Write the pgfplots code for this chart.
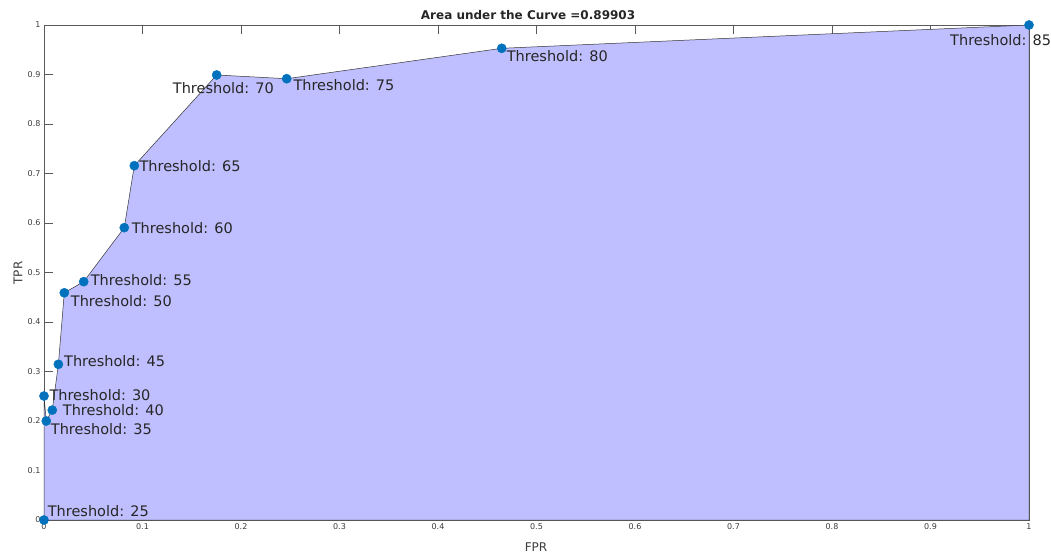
\documentclass[border=0pt]{standalone}
\usepackage{fontspec}
\setmainfont{DejaVu Sans}
\usepackage{pgfplots}
\usepackage{pgfplotstable}
\pgfplotsset{compat=1.18}
\definecolor{fillc}{RGB}{191,191,255}
\definecolor{markc}{RGB}{0,114,189}
\definecolor{axc}{RGB}{90,90,90}
\definecolor{labc}{RGB}{60,60,60}

% ROC points (FPR, TPR) ordered by threshold 25 ... 85
\pgfplotstableread{
fpr     tpr
0       0
0       0.2505
0.0023  0.2
0.0084  0.222
0.0146  0.3145
0.0206  0.459
0.0403  0.4815
0.0815  0.5906
0.0917  0.7158
0.1753  0.899
0.2464  0.8915
0.4647  0.9529
1       1
}\roc

\begin{document}
\begin{tikzpicture}[x=1pt,y=1pt]
\path[use as bounding box] (-44,-35) rectangle (1007,520);
\begin{axis}[
  at={(0,0)}, anchor=south west,
  scale only axis, width=985pt, height=495pt,
  xmin=0, xmax=1, ymin=0, ymax=1,
  clip=false,
  axis line style={axc, line width=0.6pt},
  tick align=inside, major tick length=9pt,
  tick style={axc, line width=0.5pt},
  xtick={0,0.1,0.2,0.3,0.4,0.5,0.6,0.7,0.8,0.9,1},
  xticklabels={0,0.1,0.2,0.3,0.4,0.5,0.6,0.7,0.8,0.9,1},
  ytick={0,0.1,0.2,0.3,0.4,0.5,0.6,0.7,0.8,0.9,1},
  yticklabels={0,0.1,0.2,0.3,0.4,0.5,0.6,0.7,0.8,0.9,1},
  /pgf/number format/assume math mode=true,
  ticklabel style={font=\fontsize{8}{9}\selectfont, text=labc},
  xticklabel style={yshift=0pt},
  xlabel={FPR},
  ylabel={TPR},
  label style={font=\fontsize{12}{14}\selectfont, text=labc},
  xlabel style={at={(axis cs:0.4995,-0.0545)}, anchor=center},
  ylabel style={at={(axis cs:-0.0264,0.499)}, anchor=center, rotate=0},
]
% filled area
\addplot[fill=fillc, draw=black!80, line width=0.5pt] coordinates {
(0,0) (0,0.2505) (0.0023,0.2) (0.0084,0.222) (0.0146,0.3145) (0.0206,0.459)
(0.0403,0.4815) (0.0815,0.5906) (0.0917,0.7158) (0.1753,0.899) (0.2464,0.8915)
(0.4647,0.9529) (1,1) (1,0)} -- cycle;
% markers
\addplot[only marks, mark=*, mark size=4.6pt, mark options={fill=markc, draw=markc}] table[x=fpr, y=tpr] {\roc};
% title
\node[anchor=base, inner sep=0pt, font=\fontsize{12}{14}\selectfont\bfseries, text=black!85] at (axis cs:0.4914,1.0121) {Area under the Curve =0.89903};
% labels
\begin{scope}[every node/.style={anchor=base west, inner sep=0pt, font=\fontsize{14.5}{16}\selectfont, text=black!85}]
\node at (axis cs:0.0037,0.0071) {Threshold: 25};
\node at (axis cs:0.0054,0.2424) {Threshold: 30};
\node at (axis cs:0.0068,0.1737) {Threshold: 35};
\node at (axis cs:0.0190,0.2107) {Threshold: 40};
\node at (axis cs:0.0203,0.3097) {Threshold: 45};
\node at (axis cs:0.0271,0.4309) {Threshold: 50};
\node at (axis cs:0.0474,0.4741) {Threshold: 55};
\node at (axis cs:0.0890,0.5794) {Threshold: 60};
\node at (axis cs:0.0968,0.7036) {Threshold: 65};
\node at (axis cs:0.1307,0.8620) {Threshold: 70};
\node at (axis cs:0.2531,0.8667) {Threshold: 75};
\node at (axis cs:0.4697,0.9259) {Threshold: 80};
\node at (axis cs:0.9198,0.9576) {Threshold: 85};
\end{scope}
\end{axis}
\end{tikzpicture}
\end{document}
